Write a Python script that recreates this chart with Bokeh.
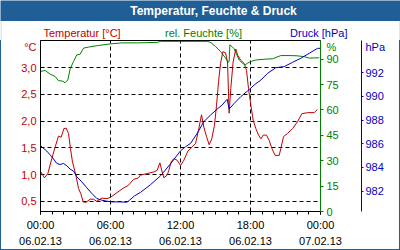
from bokeh.plotting import figure
from bokeh.models import (Range1d, LinearAxis, FixedTicker, CustomJSTickFormatter,
                          Label, BoxAnnotation, Spacer)
from bokeh.layouts import column, row
from bokeh.embed import file_html
from bokeh.resources import INLINE

# ---------------- data (hours since 06.02.13 00:00) ----------------
temp_h = [0.0, 0.34, 0.63, 0.97, 1.26, 1.54, 1.77, 2.0, 2.2, 2.4, 2.57, 2.74, 3.03, 3.26,
          3.46, 3.66, 3.89, 4.26, 4.54, 4.83, 5.26, 5.69, 6.03, 6.54, 7.11, 7.54, 7.97,
          8.4, 8.57, 9.14, 9.71, 10.0, 10.23, 10.43, 10.57, 10.86, 11.0, 11.2, 11.43,
          11.71, 12.0, 12.29, 12.63, 13.0, 13.29, 13.57, 13.8, 14.0, 14.23, 14.46, 14.68,
          14.91, 15.09, 15.26, 15.43, 15.63, 15.86, 16.03, 16.17, 16.31, 16.51, 16.74,
          16.91, 17.17, 17.46, 17.66, 17.83, 18.03, 18.23, 18.46, 18.69, 18.89, 19.09,
          19.37, 19.6, 19.83, 20.11, 20.46, 20.6, 20.83, 21.17, 21.6, 22.03, 22.4, 22.89,
          23.46, 23.74]
temp_c = [1.06, 0.94, 1.02, 1.30, 1.52, 1.72, 1.70, 1.86, 1.87, 1.77, 1.49, 1.24, 0.99, 0.74,
          0.64, 0.49, 0.48, 0.54, 0.54, 0.50, 0.56, 0.55, 0.58, 0.66, 0.75, 0.80, 0.91,
          0.94, 0.99, 1.02, 1.05, 1.08, 1.22, 1.05, 0.94, 0.99, 1.08, 1.24, 1.30,
          1.27, 1.17, 1.27, 1.44, 1.52, 1.58, 1.86, 2.12, 1.89, 1.71, 1.56, 1.67,
          1.92, 2.30, 2.74, 3.08, 3.30, 3.28, 3.11, 2.15, 2.61, 3.11, 3.35,
          3.23, 3.14, 3.08, 2.95, 2.61, 2.30, 2.02, 1.86, 1.74, 1.67, 1.74,
          1.74, 1.64, 1.49, 1.36, 1.36, 1.49, 1.71, 1.77, 1.86, 1.99, 2.14, 2.16,
          2.16, 2.22]

hum_h = [0.0, 0.4, 0.83, 1.26, 1.54, 1.89, 2.11, 2.34, 2.54, 2.83, 3.11, 3.4, 3.69, 4.11,
         5.0, 6.0, 7.0, 8.4, 10.0, 10.3, 14.29, 14.6, 15.0, 15.43, 15.86, 16.06, 16.17,
         16.23, 16.4, 16.6, 16.8, 17.03, 17.31, 17.54, 17.74, 18.03, 18.46, 19.31, 19.89,
         20.6, 21.31, 21.9, 22.6, 23.03, 23.89]
hum_pct = [82.7, 83.3, 81.1, 79.7, 77.3, 77.0, 76.1, 77.7, 84.2, 88.6, 92.5, 92.9, 96.5, 97.1,
           98.1, 99.0, 99.6, 99.6, 99.9, 100.5, 100.5, 99.8, 97.5, 94.5, 90.6, 88.2, 88.6,
           98.4, 97.5, 96.1, 92.9, 89.5, 87.6, 86.6, 87.6, 88.6, 89.5, 90.0, 90.2,
           92.1, 92.1, 92.0, 91.5, 90.6, 90.8]

pres_h = [0.0, 0.54, 0.97, 1.4, 1.69, 1.97, 2.26, 2.54, 2.83, 3.11, 3.54, 3.97, 4.4, 4.83,
          5.26, 5.69, 6.11, 6.83, 7.4, 7.63, 8.06, 8.57, 9.43, 10.29, 11.14, 12.0, 12.43,
          12.86, 13.43, 14.0, 14.57, 15.14, 15.57, 16.0, 16.17, 16.6, 17.17, 17.74, 18.31,
          18.89, 19.46, 20.17, 20.89, 21.6, 22.31, 23.03, 23.74, 24.0]
pres_hpa = [985.83, 985.38, 984.90, 984.34, 984.25, 984.34, 984.14, 983.86, 983.69, 983.22,
            982.79, 982.29, 981.81, 981.38, 981.24, 981.16, 981.10, 981.10, 981.07, 981.24,
            981.61, 981.90, 982.55, 983.30, 984.30, 985.40, 985.75, 986.03, 986.87, 987.86,
            988.41, 988.92, 989.26, 989.75, 988.92, 989.40, 989.97, 990.44, 990.95, 991.37,
            991.93, 992.41, 992.50, 992.86, 993.20, 993.62, 994.04, 994.04]

x_ticks = [0, 6, 12, 18, 24]
x_tick_labels = ["00:00\n06.02.13", "06:00\n06.02.13", "12:00\n06.02.13",
                 "18:00\n06.02.13", "00:00\n07.02.13"]
temp_ticks = [0.5, 1.0, 1.5, 2.0, 2.5, 3.0]
hum_ticks = [0, 15, 30, 45, 60, 75, 90]
pres_ticks = [982, 984, 986, 988, 990, 992]

title_text = "Temperatur, Feuchte & Druck"
header_texts = ["Temperatur [°C]", "rel. Feuchte [%]", "Druck [hPa]"]
unit_texts = ["°C", "%", "hPa"]

# ---------------- styling ----------------
RED = "#c00000"
GREEN = "#008000"
BLUE = "#0000c0"
BAR = "#1f5f96"
FONT = "Liberation Sans"
FS = "11px"


def canvas_label(text, x, y, color, align, size=FS, bold=False):
    return Label(x=x, y=y, x_units="canvas", y_units="canvas", text=text,
                 text_color=color, text_align=align, text_baseline="middle",
                 text_font=FONT, text_font_size=size,
                 text_font_style="bold" if bold else "normal")


def blank_figure(w, h, bg):
    f = figure(width=w, height=h, output_backend="svg", toolbar_location=None,
               x_range=Range1d(0, w), y_range=Range1d(0, h),
               x_axis_location=None, y_axis_location=None,
               min_border=0, min_border_left=0, min_border_right=0,
               min_border_top=0, min_border_bottom=0)
    f.grid.visible = False
    f.outline_line_color = None
    f.background_fill_color = bg
    f.border_fill_color = bg
    return f


# ---- title bar (page y 0..20) ----
fa = blank_figure(400, 21, BAR)
fa.add_layout(canvas_label(title_text, 213, 10.5, "white", "center", size="12px", bold=True))

# ---- header row (page y 21..39) ----
fb = blank_figure(400, 19, "white")
fb.add_layout(BoxAnnotation(left=0.5, right=399.5, top=-5, bottom=30,
                            left_units="canvas", right_units="canvas",
                            top_units="canvas", bottom_units="canvas",
                            fill_color=None, fill_alpha=0, line_color=BAR, line_width=1))
fb.add_layout(canvas_label(header_texts[0], 43, 11, RED, "left"))
fb.add_layout(canvas_label(header_texts[1], 203, 11, GREEN, "center"))
fb.add_layout(canvas_label(header_texts[2], 347, 11, BLUE, "right"))

# ---- chart (page x 1..398, y 40..248) ----
X0, X1 = 0.0, 24.0
T0, T1 = 0.31, 3.51
H0, H1 = 0.0, 101.0
P0, P1 = 980.29, 994.70

p = figure(width=398, height=209, output_backend="svg", toolbar_location=None,
           x_range=Range1d(X0, X1), y_range=Range1d(T0, T1),
           min_border_left=39, min_border_right=79,
           min_border_top=0, min_border_bottom=38)
p.extra_y_ranges = {"hum": Range1d(H0, H1), "pres": Range1d(P0, P1)}
p.background_fill_color = "white"
p.border_fill_color = "white"
p.outline_line_color = "black"
p.outline_line_width = 1

p.xgrid.ticker = FixedTicker(ticks=x_ticks[1:-1])
p.ygrid.ticker = FixedTicker(ticks=temp_ticks)
for g in (p.xgrid, p.ygrid):
    g.grid_line_color = "black"
    g.grid_line_dash = "4 3"
    g.grid_line_width = 1

xa = p.xaxis[0]
xa.ticker = FixedTicker(ticks=x_ticks, minor_ticks=list(range(25)))
xa.major_label_overrides = {t: l for t, l in zip(x_ticks, x_tick_labels)}
xa.axis_line_color = "black"
xa.major_tick_line_color = "black"
xa.minor_tick_line_color = "black"
xa.major_tick_out = 3
xa.major_tick_in = 0
xa.minor_tick_out = 3
xa.minor_tick_in = 0
xa.major_label_standoff = 4
xa.major_label_text_font = FONT
xa.major_label_text_font_size = FS
xa.major_label_text_color = "black"
xa.major_label_text_line_height = 1.36

ya = p.yaxis[0]
ya.ticker = FixedTicker(ticks=temp_ticks)
ya.formatter = CustomJSTickFormatter(code="return tick.toFixed(1).replace('.', ',');")
ya.axis_line_color = "black"
ya.major_tick_out = 0
ya.major_tick_in = 0
ya.minor_tick_out = 0
ya.minor_tick_in = 0
ya.major_label_standoff = 4
ya.major_label_text_font = FONT
ya.major_label_text_font_size = FS
ya.major_label_text_color = RED
p.add_layout(canvas_label(unit_texts[0], 35, 6, RED, "right"), "left")

ha = LinearAxis(y_range_name="hum", ticker=FixedTicker(ticks=hum_ticks))
ha.axis_line_color = GREEN
ha.major_tick_line_color = GREEN
ha.major_tick_out = 3
ha.major_tick_in = 0
ha.minor_tick_out = 0
ha.minor_tick_in = 0
ha.major_label_standoff = 3
ha.major_label_text_font = FONT
ha.major_label_text_font_size = FS
ha.major_label_text_color = GREEN
p.add_layout(ha, "right")
# the "hPa" unit label sits in the panel between the two right axes
p.add_layout(canvas_label(unit_texts[2], 364, 6, BLUE, "left"), "right")

pa = LinearAxis(y_range_name="pres", ticker=FixedTicker(ticks=pres_ticks))
pa.axis_line_color = BLUE
pa.major_tick_line_color = BLUE
pa.major_tick_out = 2
pa.major_tick_in = 0
pa.minor_tick_out = 0
pa.minor_tick_in = 0
pa.major_label_standoff = 2
pa.major_label_text_font = FONT
pa.major_label_text_font_size = FS
pa.major_label_text_color = BLUE
p.add_layout(pa, "right")
p.add_layout(canvas_label(unit_texts[1], 325, 6, GREEN, "left"), "right")

p.line(temp_h, temp_c, line_color=RED, line_width=1)
p.line(hum_h, hum_pct, line_color=GREEN, line_width=1, y_range_name="hum")
p.line(pres_h, pres_hpa, line_color=BLUE, line_width=1, y_range_name="pres")


def edge(w, h):
    return Spacer(width=w, height=h, styles={"background-color": BAR})


layout = column(fa, fb, row(edge(1, 209), p, edge(1, 209)), edge(400, 1))

open("out.html", "w").write(file_html(layout, INLINE))
